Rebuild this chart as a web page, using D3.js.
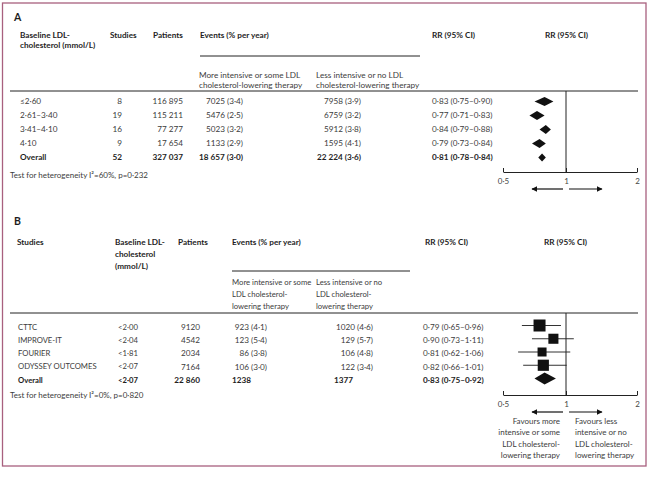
<!DOCTYPE html>
<html>
<head>
<meta charset="utf-8">
<script src="https://cdn.jsdelivr.net/npm/d3@7"></script>
<style>
  html, body { margin: 0; padding: 0; background: #fff; }
  svg { display: block; }
  text { font-family: Lato, "Open Sans", sans-serif; }
</style>
</head>
<body>
<svg id="chart" width="656" height="477"></svg>
<script>
// ---------- Panel A data ----------
const groupsA      = ["≤2·60", "2·61–3·40", "3·41–4·10", "4·10", "Overall"];
const studiesA     = [8, 19, 16, 9, 52];
const patientsA    = [116895, 115211, 77277, 17654, 327037];
const eventsMoreA  = [7025, 5476, 5023, 1133, 18657];
const pctMoreA     = [3.4, 2.5, 3.2, 2.9, 3.0];
const eventsLessA  = [7958, 6759, 5912, 1595, 22224];
const pctLessA     = [3.9, 3.2, 3.8, 4.1, 3.6];
const rrA          = [0.83, 0.77, 0.84, 0.79, 0.81];
const loA          = [0.75, 0.71, 0.79, 0.73, 0.78];
const hiA          = [0.90, 0.83, 0.88, 0.84, 0.84];
const hetA         = "Test for heterogeneity I²=60%, p=0·232";

// ---------- Panel B data ----------
const studiesB     = ["CTTC", "IMPROVE-IT", "FOURIER", "ODYSSEY OUTCOMES", "Overall"];
const ldlB         = ["<2·00", "<2·04", "<1·81", "<2·07", "<2·07"];
const patientsB    = [9120, 4542, 2034, 7164, 22860];
const eventsMoreB  = [923, 123, 86, 106, 1238];
const pctMoreB     = [4.1, 5.4, 3.8, 3.0, null];
const eventsLessB  = [1020, 129, 106, 122, 1377];
const pctLessB     = [4.6, 5.7, 4.8, 3.4, null];
const rrB          = [0.79, 0.90, 0.81, 0.82, 0.83];
const loB          = [0.65, 0.73, 0.62, 0.66, 0.75];
const hiB          = [0.96, 1.11, 1.06, 1.01, 0.92];
const hetB         = "Test for heterogeneity I²=0%, p=0·820";

// ---------- axis ticks ----------
const axisTicks    = [0.5, 1, 2];
const favMore      = ["Favours more", "intensive or some", "LDL cholesterol-", "lowering therapy"];
const favLess      = ["Favours less", "intensive or no", "LDL cholesterol-", "lowering therapy"];

// ---------- helpers ----------
const svg = d3.select("#chart");
const FS = 8.2, FSB = 7.7;
const cText = "#3c3c3c", cBold = "#1e1e1e";
const dec = (v, p) => d3.format("." + p + "f")(v).replace(".", "·");
const num = v => v >= 10000 ? d3.format(",")(v).replace(/,/g, " ") : String(v);
const evt = (n, p) => p == null ? num(n) : `${num(n)} (${dec(p, 1)})`;
const rrTxt = (r, l, h) => `${dec(r, 2)} (${dec(l, 2)}–${dec(h, 2)})`;

function txt(x, y, s, o = {}) {
  return svg.append("text")
    .attr("x", x).attr("y", y).attr("dy", "0.35em")
    .attr("font-size", o.size || FS)
    .attr("font-weight", o.bold ? 700 : 400)
    .attr("fill", o.fill || (o.bold ? cBold : cText))
    .attr("text-anchor", o.anchor || "start")
    .text(s);
}
function hline(x1, x2, y, w = 1) {
  svg.append("line").attr("x1", x1).attr("x2", x2).attr("y1", y).attr("y2", y)
    .attr("stroke", "#222").attr("stroke-width", w);
}

// frame
svg.append("rect").attr("x", 2.5).attr("y", 3).attr("width", 643.5).attr("height", 463)
  .attr("fill", "none").attr("stroke", "#a8607e").attr("stroke-width", 1.3);

// arrow marker
const defs = svg.append("defs");
defs.append("marker").attr("id", "arr").attr("viewBox", "0 0 10 10")
  .attr("refX", 9).attr("refY", 5).attr("markerWidth", 6).attr("markerHeight", 6)
  .attr("markerUnits", "userSpaceOnUse").attr("orient", "auto")
  .append("path").attr("d", "M0,0L10,5L0,10Z").attr("fill", "#111");

const x = d3.scaleLinear().domain(axisTicks).range([503, 566, 637]);

function forestAxis(yTop, yAxis) {
  svg.append("line").attr("x1", x(1)).attr("x2", x(1)).attr("y1", yTop).attr("y2", yAxis)
    .attr("stroke", "#222").attr("stroke-width", 1);
  const ax = svg.append("g").attr("transform", `translate(0,${yAxis})`)
    .call(d3.axisBottom(x).tickValues(axisTicks).tickSizeInner(-4).tickSizeOuter(0).tickPadding(6)
      .tickFormat(v => v === 1 ? "1" : (v < 1 ? dec(v, 1) : String(v))));
  ax.select(".domain").attr("stroke", "#222");
  ax.selectAll(".tick line").attr("stroke", "#222");
  ax.selectAll("text").attr("font-size", 8).attr("fill", "#444").attr("font-family", "Lato, sans-serif");
  const ya = yAxis + 17;
  svg.append("line").attr("x1", x(1) - 3).attr("x2", 532).attr("y1", ya).attr("y2", ya)
    .attr("stroke", "#111").attr("stroke-width", 1.2).attr("marker-end", "url(#arr)");
  svg.append("line").attr("x1", x(1) + 3).attr("x2", 602).attr("y1", ya).attr("y2", ya)
    .attr("stroke", "#111").attr("stroke-width", 1.2).attr("marker-end", "url(#arr)");
}

// ================= Panel A =================
txt(14, 17, "A", { bold: true, size: 10.5 });
txt(20, 35, "Baseline LDL-", { bold: true });
txt(20, 45.5, "cholesterol (mmol/L)", { bold: true });
txt(110, 35, "Studies", { bold: true });
txt(153, 35, "Patients", { bold: true });
txt(200, 35, "Events (% per year)", { bold: true });
txt(432, 35, "RR (95% CI)", { bold: true });
txt(545, 35, "RR (95% CI)", { bold: true });
hline(200, 420, 56, 1);
txt(199, 75.5, "More intensive or some LDL");
txt(199, 85.5, "cholesterol-lowering therapy");
txt(316, 75.5, "Less intensive or no LDL");
txt(316, 85.5, "cholesterol-lowering therapy");
hline(10, 638, 91, 1);

const yA = d3.scalePoint().domain(d3.range(groupsA.length)).range([101, 157]);
groupsA.forEach((g, i) => {
  const b = i === groupsA.length - 1;
  const y = yA(i);
  txt(20, y, g, { bold: b });
  txt(122, y, String(studiesA[i]), { bold: b, anchor: "end" });
  txt(183, y, num(patientsA[i]), { bold: b, anchor: "end" });
  txt(243, y, evt(eventsMoreA[i], pctMoreA[i]), { bold: b, anchor: "end" });
  txt(361, y, evt(eventsLessA[i], pctLessA[i]), { bold: b, anchor: "end" });
  txt(432, y, rrTxt(rrA[i], loA[i], hiA[i]), { bold: b });
  const h = b ? 8 : 9;
  const ym = y + 0.5;
  svg.append("path")
    .attr("d", `M${x(loA[i])},${ym}L${x(rrA[i])},${ym - h / 2}L${x(hiA[i])},${ym}L${x(rrA[i])},${ym + h / 2}Z`)
    .attr("fill", "#111");
});
txt(10, 175, hetA, { size: 8 });
forestAxis(91, 172);

// ================= Panel B =================
txt(14, 221, "B", { bold: true, size: 10.5 });
txt(17, 242, "Studies", { bold: true });
txt(115, 242, "Baseline LDL-", { bold: true });
txt(115, 254, "cholesterol", { bold: true });
txt(115, 266, "(mmol/L)", { bold: true });
txt(178, 242, "Patients", { bold: true });
txt(232, 242, "Events (% per year)", { bold: true });
txt(425, 242, "RR (95% CI)", { bold: true });
txt(544, 242, "RR (95% CI)", { bold: true });
hline(232, 410, 271, 1);
txt(232, 282, "More intensive or some", { size: FSB });
txt(232, 294, "LDL cholesterol-", { size: FSB });
txt(232, 306, "lowering therapy", { size: FSB });
txt(316, 282, "Less intensive or no", { size: FSB });
txt(316, 294, "LDL cholesterol-", { size: FSB });
txt(316, 306, "lowering therapy", { size: FSB });
hline(10, 638, 313, 1);

const yB = d3.scalePoint().domain(d3.range(studiesB.length)).range([327, 380]);
const sq = d3.scaleLinear().domain([d3.min(patientsB.slice(0, 4)), d3.max(patientsB.slice(0, 4))]).range([9, 12]);
studiesB.forEach((s, i) => {
  const b = i === studiesB.length - 1;
  const y = yB(i);
  txt(18, y, s, { bold: b, size: FSB });
  txt(118, y, ldlB[i], { bold: b, size: FSB });
  txt(200, y, num(patientsB[i]), { bold: b, anchor: "end" });
  if (b) {
    txt(232, y, evt(eventsMoreB[i], pctMoreB[i]), { bold: b });
    txt(334, y, evt(eventsLessB[i], pctLessB[i]), { bold: b });
  } else {
    txt(267, y, evt(eventsMoreB[i], pctMoreB[i]), { anchor: "end" });
    txt(373, y, evt(eventsLessB[i], pctLessB[i]), { anchor: "end" });
  }
  txt(423, y, rrTxt(rrB[i], loB[i], hiB[i]), { bold: b });
  const ym = y - 1.5;
  if (b) {
    const h = 12;
    svg.append("path")
      .attr("d", `M${x(loB[i])},${ym}L${x(rrB[i])},${ym - h / 2}L${x(hiB[i])},${ym}L${x(rrB[i])},${ym + h / 2}Z`)
      .attr("fill", "#111");
  } else {
    svg.append("line").attr("x1", x(loB[i])).attr("x2", x(hiB[i])).attr("y1", ym).attr("y2", ym)
      .attr("stroke", "#333").attr("stroke-width", 1);
    const s2 = sq(patientsB[i]);
    svg.append("rect").attr("x", x(rrB[i]) - s2 / 2).attr("y", ym - s2 / 2)
      .attr("width", s2).attr("height", s2).attr("fill", "#111");
  }
});
txt(10, 395, hetB, { size: 8 });
forestAxis(313, 395);

favMore.forEach((t, i) => txt(560, 421 + i * 11.5, t, { anchor: "end", size: 8 }));
favLess.forEach((t, i) => txt(575, 421 + i * 11.5, t, { size: 8 }));
</script>
</body>
</html>
